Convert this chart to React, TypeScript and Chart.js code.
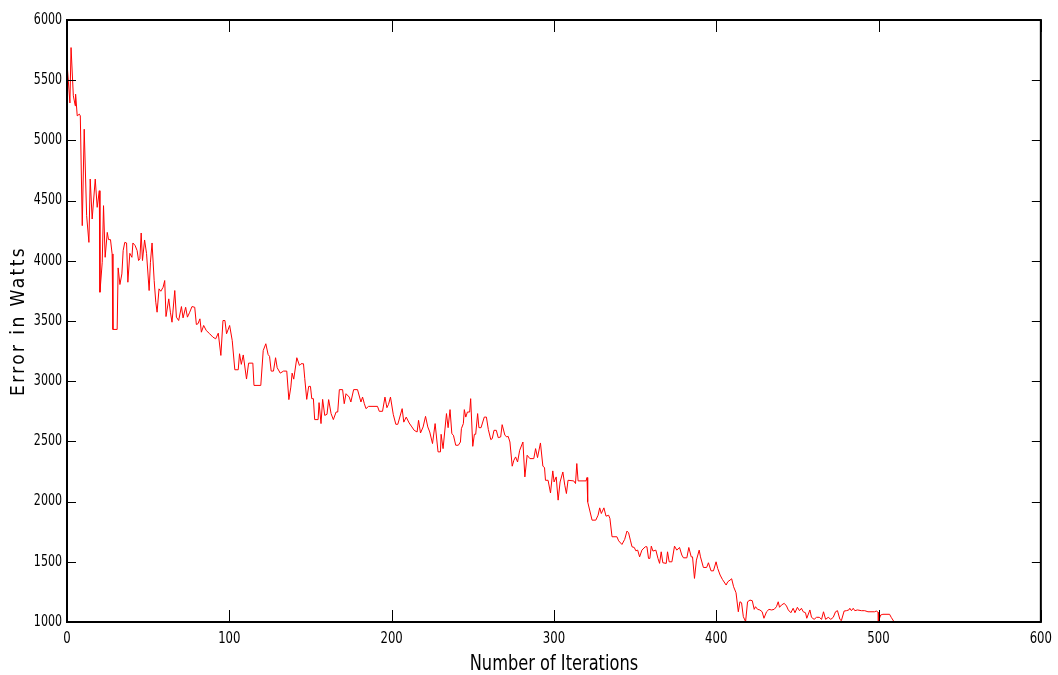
import { useEffect, useRef } from 'react';
import { Chart, registerables } from 'chart.js';

Chart.register(...registerables);

const xTitle = 'Number of Iterations';
const yTitle = 'Error in Watts';
const xMin = 0;
const xMax = 600;
const xStep = 100;
const yMin = 1000;
const yMax = 6000;
const yStep = 500;

const iterations = [
  0, 1.8, 2.5, 3.9, 5.1, 5.3, 6.3, 7.6, 8.2, 9.4, 10.6, 12.1, 13.5, 14.3, 15.5, 17.4, 18.6, 19.9, 20.3, 21.7,
  22.5, 23.5, 24.8, 25.6, 26.8, 27.8, 28.3, 30.9, 31.5, 32.6, 33.8, 34.6, 35.6, 36.7, 37.5, 38.7, 40, 40.6, 42, 43.2,
  44.1, 44.9, 45.7, 46.5, 47.8, 49, 50.6, 51.4, 52.4, 53.7, 54.7, 55.5, 56.7, 57.8, 59.2, 60.2, 61, 62.7, 63.7, 64.7,
  66.4, 67.4, 68.8, 70.5, 71.5, 73.1, 74.2, 75.6, 77, 78.7, 79.7, 80.7, 81.9, 82.8, 84.2, 85.8, 87.9, 89.9, 91.6, 93.2,
  94.8, 96.1, 97.3, 98.3, 100.2, 101.8, 103.4, 105.5, 106.3, 107.4, 108.6, 110.6, 111.9, 114.5, 115.2, 119.4, 120.9, 122.5, 123.9, 124.8,
  125.8, 127.2, 128.5, 129.5, 131.4, 133.4, 135.4, 136.7, 137.9, 138.7, 139.7, 141.6, 143.2, 144.2, 145.7, 146.5, 147.7, 148.9, 150, 150.8,
  151.8, 152.6, 154.7, 155.3, 156.5, 157.5, 158.8, 160.2, 161.2, 162.7, 164.1, 165.8, 166.8, 167.8, 169.8, 170.8, 171.9, 173.9, 174.9, 176.6,
  179, 181.1, 182.1, 183.2, 184.2, 185.8, 191.3, 192.4, 194.4, 195.9, 197.1, 198.1, 199.3, 201, 202.6, 203.8, 206.5, 207.5, 209, 210.8,
  212.5, 213.9, 215.7, 216.6, 217.8, 219.4, 220.9, 222.3, 223.5, 225.2, 226.8, 228.6, 230.1, 230.5, 231.7, 233.8, 234.8, 236, 237.1, 238.1,
  239.5, 241.1, 242.4, 243, 244.2, 244.8, 245.7, 246.7, 248.1, 248.7, 250, 251, 251.8, 253, 253.8, 255.1, 257.1, 258.4, 259.6, 261.1,
  262, 263.1, 264.5, 265.7, 267.2, 268.1, 269.8, 271, 271.8, 272.9, 274.3, 275.3, 276.4, 277.6, 278.9, 280.9, 282.1, 283.5, 285.2, 287.6,
  288.7, 289.9, 291.7, 293.2, 294.2, 294.8, 296.4, 297.9, 299.3, 300.1, 301.4, 302.6, 303.8, 305.5, 306.7, 307.7, 308.7, 312.2, 313.3, 314.1,
  314.9, 319.8, 320.4, 320.8, 323.5, 325.8, 327.2, 328.2, 329.2, 330.8, 332.1, 333.7, 334.5, 335.8, 338.8, 339.9, 341.9, 343.6, 345, 346,
  347.1, 348.1, 349.5, 350.5, 351.6, 352.8, 354.2, 356.3, 357.3, 358.3, 359.1, 360, 361, 362.8, 364.1, 365.1, 366.1, 367.1, 369.2, 370,
  371, 372.7, 374.3, 375.7, 377.4, 378.8, 379.8, 381.9, 383.1, 384.6, 385.4, 386.6, 387.8, 389.5, 390.3, 392.1, 394.1, 395.2, 396.8, 398.3,
  399.9, 400.9, 402.4, 403.8, 406.1, 407.1, 408.5, 409.5, 410.7, 412.2, 413.6, 414.6, 415.6, 416.7, 418.1, 419.3, 420.8, 422.2, 423.4, 424.2,
  425.5, 426.9, 428.3, 429.4, 431, 432.5, 434.1, 435.7, 437.1, 438.2, 439, 440.2, 441.9, 443.3, 444.4, 446, 447.4, 448.5, 450, 451.3,
  452.5, 453.6, 455, 455.8, 457.7, 458.7, 460.3, 461.8, 463.5, 464.9, 466.1, 467.4, 469, 470.6, 472.1, 473.5, 474.7, 476.2, 477.1, 478.8,
  480.2, 481.7, 482.3, 483.3, 484.4, 485.4, 487, 489.5, 491.5, 493.5, 497.6, 498.6, 499.8, 499.9, 501.3, 502.7, 506.8, 507.8, 509.5, 511,
];

const errorWatts = [
  5646, 5311, 5771, 5370, 5287, 5384, 5204, 5218, 5204, 4292, 5093, 4375, 4153, 4679, 4347, 4679, 4444, 4582, 3739, 3988,
  4458, 4029, 4236, 4176, 4176, 4057, 3430, 3430, 3941, 3803, 3891, 4085, 4153, 4148, 3822, 4062, 4029, 4148, 4126, 4085,
  4002, 4016, 4231, 4002, 4173, 4062, 3753, 3988, 4148, 3836, 3656, 3573, 3767, 3747, 3780, 3836, 3537, 3684, 3573, 3490,
  3753, 3532, 3504, 3620, 3526, 3614, 3532, 3573, 3620, 3614, 3471, 3477, 3518, 3407, 3463, 3421, 3394, 3366, 3352, 3399,
  3214, 3504, 3504, 3394, 3463, 3338, 3095, 3095, 3228, 3140, 3218, 3018, 3150, 3150, 2965, 2965, 3255, 3311, 3222, 3206,
  3084, 3084, 3195, 3112, 3067, 3084, 3084, 2847, 2951, 3067, 3017, 3195, 3131, 3145, 3145, 3021, 2849, 2957, 2957, 2855,
  2855, 2681, 2681, 2822, 2648, 2849, 2716, 2725, 2847, 2731, 2681, 2744, 2744, 2930, 2930, 2813, 2896, 2868, 2827, 2930,
  2930, 2827, 2868, 2813, 2772, 2791, 2791, 2750, 2750, 2868, 2780, 2808, 2868, 2725, 2642, 2642, 2772, 2660, 2702, 2653,
  2620, 2592, 2578, 2675, 2570, 2620, 2708, 2620, 2578, 2482, 2648, 2413, 2413, 2559, 2440, 2731, 2614, 2764, 2564, 2551,
  2468, 2468, 2495, 2606, 2648, 2764, 2702, 2744, 2744, 2855, 2459, 2559, 2559, 2731, 2614, 2614, 2702, 2702, 2598, 2515,
  2523, 2592, 2592, 2531, 2537, 2639, 2551, 2537, 2542, 2495, 2294, 2343, 2371, 2329, 2426, 2495, 2205, 2385, 2357, 2357,
  2440, 2365, 2487, 2294, 2283, 2177, 2177, 2072, 2255, 2163, 2205, 2012, 2163, 2246, 2136, 2067, 2177, 2172, 2150, 2316,
  2172, 2172, 2200, 1998, 1846, 1846, 1887, 1948, 1901, 1948, 1879, 1887, 1860, 1708, 1708, 1674, 1644, 1686, 1755, 1741,
  1680, 1625, 1619, 1591, 1597, 1541, 1597, 1625, 1625, 1528, 1528, 1630, 1589, 1597, 1528, 1487, 1583, 1492, 1487, 1583,
  1500, 1500, 1630, 1597, 1619, 1556, 1533, 1533, 1619, 1541, 1541, 1362, 1514, 1597, 1541, 1453, 1453, 1492, 1425, 1425,
  1500, 1445, 1390, 1354, 1307, 1334, 1348, 1359, 1293, 1243, 1085, 1168, 1160, 1044, 1003, 1168, 1182, 1177, 1105, 1127,
  1105, 1100, 1085, 1031, 1085, 1105, 1100, 1105, 1127, 1168, 1122, 1141, 1155, 1133, 1100, 1077, 1114, 1077, 1122, 1094,
  1114, 1085, 1077, 1031, 1100, 1039, 1022, 1039, 1039, 1022, 1085, 1022, 1039, 1022, 1039, 1085, 1094, 1022, 1011, 1091,
  1094, 1100, 1114, 1094, 1114, 1094, 1100, 1094, 1094, 1085, 1085, 1091, 1080, 1003, 1058, 1064, 1064, 1039, 1003, 960,
];

const FONT = "'DejaVu Sans Condensed', 'Liberation Sans Narrow', 'Liberation Sans', sans-serif";

const framePlugin = {
  id: 'matlabFrame',
  afterUpdate(chart: any) {
    const sy = chart.scales.y;
    if (sy && !sy.__patched) {
      const origTitle = sy.drawTitle.bind(sy);
      sy.drawTitle = function () {
        const c = this.ctx;
        const prev = c.letterSpacing;
        c.letterSpacing = '2.4px';
        origTitle();
        c.letterSpacing = prev || '0px';
      };
      const origLabels = sy.drawLabels.bind(sy);
      sy.drawLabels = function (area: any) {
        const c = this.ctx;
        const ax = this.right - 5;
        c.save();
        c.translate(ax, 0);
        c.scale(0.82, 1);
        c.translate(-ax, 0);
        origLabels(area);
        c.restore();
      };
      sy.__patched = true;
    }
    const sx = chart.scales.x;
    if (sx && !sx.__patched) {
      const origTitle = sx.drawTitle.bind(sx);
      sx.drawTitle = function () {
        const c = this.ctx;
        const cx = (this.left + this.right) / 2;
        c.save();
        c.translate(cx, 0);
        c.scale(0.82, 1);
        c.translate(-cx, 0);
        origTitle();
        c.restore();
      };
      const origLabels = sx.drawLabels.bind(sx);
      sx.drawLabels = function (area: any) {
        const c = this.ctx;
        const ay = this.top;
        c.save();
        c.translate(0, ay);
        c.scale(1, 1.2);
        c.translate(0, -ay);
        origLabels(area);
        c.restore();
      };
      sx.__patched = true;
    }
  },
  afterDraw(chart: any) {
    const { ctx, chartArea, scales } = chart;
    const { left, right, top, bottom } = chartArea;
    const x = scales.x;
    const y = scales.y;
    const LX = 12;
    const LY = 9;
    ctx.save();
    ctx.strokeStyle = '#000';
    ctx.lineWidth = 1;
    ctx.beginPath();
    x.ticks.forEach((t: any) => {
      const px = Math.round(x.getPixelForValue(t.value)) + 0.5;
      ctx.moveTo(px, bottom);
      ctx.lineTo(px, bottom - LX);
      ctx.moveTo(px, top);
      ctx.lineTo(px, top + LX);
    });
    y.ticks.forEach((t: any) => {
      const py = Math.round(y.getPixelForValue(t.value)) + 0.5;
      ctx.moveTo(left, py);
      ctx.lineTo(left + LY, py);
      ctx.moveTo(right, py);
      ctx.lineTo(right - LY, py);
    });
    ctx.stroke();
    ctx.lineWidth = 2;
    ctx.strokeRect(left, top, right - left, bottom - top);
    ctx.restore();
  },
};

export default function App() {
  const ref = useRef<HTMLCanvasElement | null>(null);

  useEffect(() => {
    document.body.style.margin = '0';
    const canvas = ref.current;
    if (!canvas) return;
    const points = iterations.map((it, i) => ({ x: it, y: errorWatts[i] }));
    const chart = new Chart(canvas, {
      type: 'line',
      data: {
        datasets: [
          {
            data: points,
            borderColor: '#ff0000',
            borderWidth: 1,
            pointRadius: 0,
            tension: 0,
            fill: false,
          },
        ],
      },
      options: {
        animation: false,
        responsive: false,
        maintainAspectRatio: false,
        layout: { padding: { left: 0, right: 14, top: 20, bottom: 0 } },
        plugins: {
          legend: { display: false },
          tooltip: { enabled: false },
        },
        scales: {
          x: {
            type: 'linear',
            min: xMin,
            max: xMax,
            grid: { display: false, drawTicks: false },
            border: { display: false },
            ticks: {
              stepSize: xStep,
              color: '#000',
              padding: 6,
              maxRotation: 0,
              font: { family: FONT, size: 13 },
              callback: (v: any) => String(v),
            },
            title: {
              display: true,
              text: xTitle,
              color: '#000',
              padding: { top: 0, bottom: 0 },
              font: { family: FONT, size: 22, lineHeight: 1 },
            },
            afterFit: (s: any) => {
              s.height = 53;
            },
          },
          y: {
            type: 'linear',
            min: yMin,
            max: yMax,
            grid: { display: false, drawTicks: false },
            border: { display: false },
            ticks: {
              stepSize: yStep,
              color: '#000',
              padding: 5,
              font: { family: FONT, size: 15 },
              callback: (v: any) => String(v),
            },
            title: {
              display: true,
              text: yTitle,
              color: '#000',
              padding: { top: 8, bottom: 0 },
              font: { family: FONT, size: 19 },
            },
            afterFit: (s: any) => {
              s.width = 67;
            },
          },
        },
      },
      plugins: [framePlugin],
    });
    return () => chart.destroy();
  }, []);

  return <canvas ref={ref} width={1058} height={675} style={{ display: 'block', width: 1058, height: 675 }} />;
}
